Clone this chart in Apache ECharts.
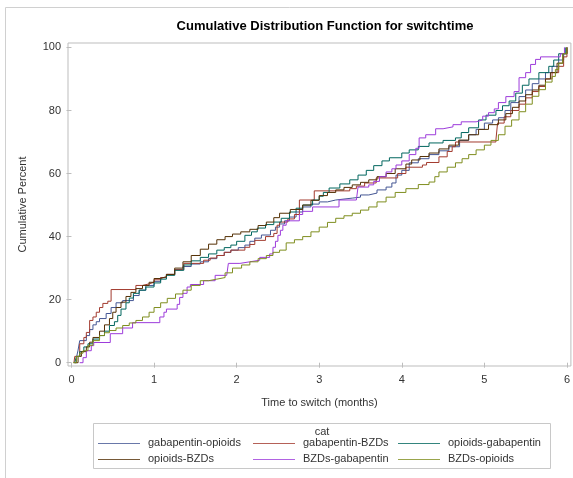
<!DOCTYPE html>
<html>
<head>
<meta charset="utf-8">
<script src="https://cdn.jsdelivr.net/npm/echarts@6/dist/echarts.min.js"></script>
<style>
html,body{margin:0;padding:0;background:#fff;}
#chart{width:573px;height:478px;}
</style>
</head>
<body>
<div id="chart"></div>
<script>
// Categories (legend order)
const categories = ['gabapentin-opioids','gabapentin-BZDs','opioids-gabapentin','opioids-BZDs','BZDs-gabapentin','BZDs-opioids'];
const colors = ['#445694','#A23A2E','#01665E','#543005','#9D3CDB','#7F8E1F'];

// Tick labels
const xTicks = [0,1,2,3,4,5,6];
const yTicks = [0,20,40,60,80,100];

// Step points [time (months), cumulative percent]
const gabapentinOpioids = [[0.03,0],[0.06,1.6],[0.08,4],[0.1,7],[0.18,8.6],[0.22,10.5],[0.26,12],[0.3,13],[0.34,14],[0.42,15.6],[0.48,17.5],[0.54,19],[0.62,19.7],[0.75,21.3],[0.82,23],[0.9,24.5],[1.0,25.8],[1.08,27],[1.15,28],[1.25,29.5],[1.35,30.5],[1.45,31.3],[1.56,32],[1.66,33],[1.76,34],[1.85,35],[1.93,35.7],[2.02,36.5],[2.1,37.3],[2.16,38.5],[2.22,39.5],[2.3,40.5],[2.41,42],[2.47,43],[2.52,44],[2.58,45],[2.64,46.2],[2.72,47.8],[2.8,49.4],[2.9,50.3],[3.0,51],[3.1,51.6],[3.2,52.2],[3.4,52.5],[3.5,53.2],[3.6,53.8],[3.7,54.8],[3.81,55.7],[3.88,57],[3.93,59.5],[4.0,61],[4.09,63.4],[4.2,64.7],[4.33,66],[4.45,67.2],[4.57,68.5],[4.7,70.5],[4.81,72.3],[4.9,74],[5.0,76],[5.1,77],[5.17,77.7],[5.25,80],[5.32,82.5],[5.42,84.4],[5.5,86.5],[5.58,88.5],[5.66,90],[5.74,92],[5.82,94],[5.9,96],[5.96,98],[6.0,100]];
const gabapentinBZDs = [[0.03,0],[0.04,2],[0.1,6],[0.15,8],[0.18,9.6],[0.22,13.4],[0.26,14.5],[0.3,16],[0.34,17.5],[0.38,18.8],[0.44,19.5],[0.48,23.2],[0.78,24.5],[0.86,25],[0.94,25.5],[1.0,26.3],[1.08,27],[1.15,28],[1.25,29.5],[1.36,31.5],[1.6,32.5],[1.68,33.2],[1.76,34],[1.85,35],[1.93,35.7],[2.1,36.6],[2.16,37.5],[2.22,38.8],[2.35,40],[2.45,41],[2.49,43.6],[2.52,44.6],[2.62,45.6],[2.7,47],[2.76,51.6],[2.94,54.5],[3.37,55.2],[3.45,56],[3.55,57],[3.69,58.6],[3.95,60],[4.05,62],[4.25,62.7],[4.3,63.5],[4.45,65.3],[4.55,67],[4.61,68.5],[4.65,70],[5.14,70.7],[5.16,76],[5.24,78],[5.32,80],[5.42,82],[5.5,84],[5.58,86],[5.66,87.6],[5.74,90],[5.82,92],[5.9,94],[5.96,97],[6.0,100]];
const opioidsGabapentin = [[0.04,0],[0.06,2],[0.1,3.5],[0.15,5],[0.2,6],[0.26,7.5],[0.34,8.6],[0.4,10],[0.46,11.8],[0.52,13],[0.56,15],[0.6,17],[0.66,19],[0.7,20.5],[0.75,22],[0.82,23],[0.9,24],[1.0,25.3],[1.08,26.5],[1.15,27.7],[1.25,29.3],[1.36,31],[1.45,32.3],[1.56,33.4],[1.66,34.5],[1.76,35.7],[1.85,36.5],[1.93,37.3],[2.0,38.5],[2.1,40.4],[2.18,41.5],[2.25,42.7],[2.35,43.8],[2.45,44.6],[2.54,45.8],[2.64,47.8],[2.72,49],[2.8,50],[2.92,51.6],[3.0,52.8],[3.05,54],[3.12,55.4],[3.25,56.7],[3.37,58],[3.47,59.5],[3.57,61],[3.66,62.5],[3.76,64],[3.85,65],[4.0,66.5],[4.09,67.5],[4.2,68.6],[4.33,69.7],[4.5,70.5],[4.65,71.3],[4.72,73],[4.81,74.5],[4.93,77],[5.02,78.5],[5.14,80],[5.22,81.5],[5.3,83],[5.38,85.5],[5.46,88],[5.54,90],[5.66,92],[5.78,94],[5.84,96],[5.9,98],[5.98,100]];
const opioidsBZDs = [[0.04,0],[0.08,2],[0.12,3.5],[0.18,5],[0.22,6.5],[0.26,8],[0.34,10],[0.4,12],[0.46,14],[0.5,16],[0.54,17.5],[0.6,19.2],[0.66,21],[0.72,22.3],[0.78,23.5],[0.86,24.5],[0.94,25.5],[1.0,26.7],[1.08,27.3],[1.15,28],[1.25,30],[1.35,32],[1.45,34],[1.56,36],[1.66,37.6],[1.76,39],[1.86,40],[1.95,40.8],[2.05,41.5],[2.16,42.3],[2.26,43.5],[2.36,44.6],[2.45,46],[2.52,47.4],[2.65,48.6],[2.8,50],[2.9,51.5],[3.0,53],[3.1,54],[3.2,54.8],[3.3,55.6],[3.4,56.4],[3.5,57.2],[3.6,58],[3.7,59],[3.81,60],[3.92,61.5],[4.05,63],[4.12,64.3],[4.22,65.4],[4.33,66.5],[4.45,67.8],[4.57,69],[4.69,70.6],[4.81,72.3],[4.93,74],[5.05,75.5],[5.17,77],[5.26,79],[5.34,81],[5.42,83],[5.5,85],[5.58,86.5],[5.66,88],[5.74,90],[5.8,92],[5.88,95],[5.95,98],[6.0,100]];
const bzdsGabapentin = [[0.1,0],[0.14,1.6],[0.18,3.8],[0.24,5.4],[0.27,6.4],[0.47,9.2],[0.62,11],[0.74,12.7],[1.07,14.5],[1.12,16],[1.15,17],[1.28,18.5],[1.31,20.7],[1.35,22],[1.4,24],[1.44,24.8],[1.6,26],[1.74,27.7],[1.88,28.3],[1.9,31.5],[2.04,32],[2.16,32.5],[2.28,33.4],[2.4,34.5],[2.44,36.6],[2.47,38.5],[2.5,40.4],[2.53,42],[2.56,43.6],[2.6,45],[2.76,47],[2.8,48],[2.92,49.4],[3.24,51.6],[3.45,52.2],[3.47,55.7],[3.6,56.4],[3.66,57.5],[3.73,59],[3.81,60.5],[3.88,61.5],[3.93,62.7],[4.0,64],[4.09,66],[4.17,68],[4.21,71.3],[4.29,72.3],[4.41,74.2],[4.5,74.8],[4.62,75.5],[4.72,76.4],[4.9,77],[4.98,78.2],[5.05,79.3],[5.12,80.5],[5.17,82.5],[5.26,84.4],[5.36,86],[5.42,90.4],[5.5,92],[5.56,94.6],[5.62,96.2],[5.68,97],[5.92,98],[5.97,100]];
const bzdsOpioids = [[0.02,0],[0.06,2],[0.1,3],[0.14,3.8],[0.2,5.5],[0.26,7],[0.34,8.6],[0.4,9.5],[0.46,10.2],[0.54,11],[0.62,11.8],[0.7,12.6],[0.78,13.4],[0.86,14.5],[0.94,16],[1.0,17.5],[1.08,19],[1.16,20.4],[1.26,21.8],[1.35,23],[1.45,24.5],[1.56,26],[1.66,26.5],[1.76,27],[1.86,28.5],[1.95,30],[2.06,31],[2.16,32],[2.26,33],[2.36,34],[2.44,35],[2.52,35.7],[2.6,38],[2.7,39],[2.8,40],[2.9,41.5],[3.0,43],[3.1,44.5],[3.2,45.8],[3.3,46.6],[3.4,47.4],[3.5,48.4],[3.6,49.4],[3.7,51],[3.81,52.5],[3.92,54],[4.05,55.2],[4.2,56.5],[4.33,57.3],[4.4,59],[4.45,60.5],[4.55,62],[4.65,63.4],[4.73,64.7],[4.81,66],[4.9,67.5],[5.0,69],[5.08,70.5],[5.17,72.3],[5.25,75],[5.33,77],[5.42,79.6],[5.5,82],[5.58,84.5],[5.66,86.6],[5.74,89],[5.82,90.8],[5.86,93],[5.9,95],[5.95,98],[6.0,100]];

const seriesData = [gabapentinOpioids, gabapentinBZDs, opioidsGabapentin, opioidsBZDs, bzdsGabapentin, bzdsOpioids];

const FONT = '"Liberation Sans", Arial, sans-serif';
const chart = echarts.init(document.getElementById('chart'), null, {renderer:'canvas'});

// legend item anchors (icon start x, row centre y)
const legendPos = [[98,443],[253,443],[398,443],[98,459],[253,459],[398,459]];
const legends = categories.map((name,i)=>({
  data:[name], left:legendPos[i][0], top:legendPos[i][1]-7, padding:0,
  icon:'rect', itemWidth:42, itemHeight:14, itemGap:0,
  selectedMode:false,
  itemStyle:{color:'rgba(0,0,0,0)', borderWidth:0},
  lineStyle:{opacity:0},
  textStyle:{fontFamily:FONT, fontSize:11, color:'#333', padding:[0,0,0,3]}
}));
const legendLines = categories.map((name,i)=>({
  type:'line', silent:true,
  shape:{x1:legendPos[i][0], y1:legendPos[i][1]+0.5, x2:legendPos[i][0]+42, y2:legendPos[i][1]+0.5},
  style:{stroke:colors[i], lineWidth:1, opacity:0.8}
}));

chart.setOption({
  animation:false,
  backgroundColor:'#fff',
  title:{text:'Cumulative Distribution Function for switchtime', left:320, top:15, textAlign:'center',
    textStyle:{fontFamily:FONT, fontSize:13, fontWeight:'bold', color:'#000'}},
  grid:{left:68, right:0, top:43, bottom:112, show:true, borderColor:'#bdbdbd', borderWidth:1, backgroundColor:'transparent'},
  legend:legends,
  xAxis:{type:'value', min:-0.042, max:6.048,
    name:'Time to switch (months)', nameLocation:'middle', nameGap:31,
    nameTextStyle:{fontFamily:FONT, fontSize:11, color:'#333'},
    axisLine:{show:false}, splitLine:{show:false},
    axisTick:{show:true, length:5, lineStyle:{color:'#bdbdbd'}, customValues:xTicks},
    axisLabel:{fontFamily:FONT, fontSize:11, color:'#333', margin:8, customValues:xTicks, formatter:v=>String(Math.round(v))}
  },
  yAxis:{type:'value', min:-1.05, max:101.4,
    name:'Cumulative Percent', nameLocation:'middle', nameGap:40, nameRotate:90,
    nameTextStyle:{fontFamily:FONT, fontSize:11, color:'#333'},
    axisLine:{show:false}, splitLine:{show:false},
    axisTick:{show:true, length:5, lineStyle:{color:'#bdbdbd'}, customValues:yTicks},
    axisLabel:{fontFamily:FONT, fontSize:11, color:'#333', margin:7, customValues:yTicks, formatter:v=>String(Math.round(v))}
  },
  series:categories.map((name,i)=>({
    name:name, type:'line', step:'end', data:seriesData[i],
    showSymbol:false, symbol:'none',
    itemStyle:{color:colors[i]},
    lineStyle:{width:1, color:colors[i]}, clip:true
  })),
  graphic:[
    {type:'polyline', shape:{points:[[5.5,478],[5.5,7.5],[573,7.5]]}, style:{stroke:'#d0d0d0', lineWidth:1, fill:null}, silent:true},
    {type:'rect', shape:{x:93.5, y:423.5, width:457, height:45}, style:{stroke:'#c8c8c8', lineWidth:1, fill:null}, silent:true},
    {type:'text', x:322, y:432, style:{text:'cat', align:'center', verticalAlign:'middle', fontFamily:FONT, fontSize:11, fill:'#333'}, silent:true}
  ].concat(legendLines)
});
</script>
</body>
</html>
